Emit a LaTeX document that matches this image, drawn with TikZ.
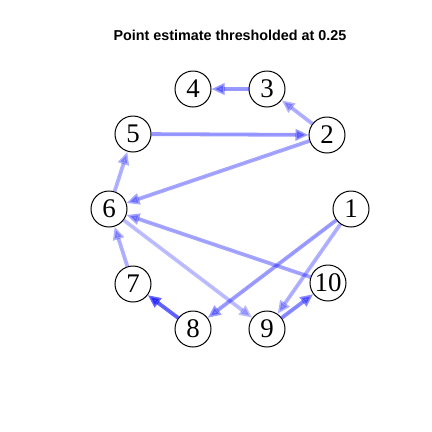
\documentclass[tikz,border=0pt]{standalone}
\usepackage{fontspec}
\setmainfont{Liberation Serif}
\newfontfamily\titlefont{Liberation Sans}
\usetikzlibrary{arrows.meta}
\tikzset{
	vertex/.style={circle, draw=black, line width=1bp, fill=white, minimum size=36bp, inner sep=0pt, font=\fontsize{27}{27}\selectfont},
	edge/.style={-{Triangle[length=13bp,width=11bp]}, line width=3.8bp, draw=blue, fill=blue, draw opacity=#1, fill opacity=#1},
	edge/.default=0.35
}

\begin{document}
\begin{tikzpicture}[x=1bp, y=-1bp]
	\useasboundingbox (0,0) rectangle (432,432);
	\node[font=\titlefont\bfseries\fontsize{14.4}{14.4}\selectfont] (title) at (230,35) {Point estimate thresholded at 0.25};
	\node[vertex] (n1) at (351,209) {1};
	\node[vertex] (n2) at (327,135) {2};
	\node[vertex] (n3) at (267,89) {3};
	\node[vertex] (n4) at (193,89) {4};
	\node[vertex] (n5) at (133,134) {5};
	\node[vertex] (n6) at (109,209) {6};
	\node[vertex] (n7) at (133,284) {7};
	\node[vertex] (n8) at (193,329) {8};
	\node[vertex] (n9) at (267,329) {9};
	\node[vertex] (n10) at (328,283) {10};
	\draw[edge=0.4] (n3) -- (n4);
	\draw[edge=0.3] (n2) -- (n3);
	\draw[edge=0.4] (n5) -- (n2);
	\draw[edge=0.35] (n2) -- (n6);
	\draw[edge=0.3] (n6) -- (n5);
	\draw[edge=0.3] (n7) -- (n6);
	\draw[edge=0.35] (n10) -- (n6);
	\draw[edge=0.25] (n6) -- (n9);
	\draw[edge=0.6] (n8) -- (n7);
	\draw[edge=0.38] (n1) -- (n8);
	\draw[edge=0.3] (n1) -- (n9);
	\draw[edge=0.45] (n9) -- (n10);
\end{tikzpicture}
\end{document}
